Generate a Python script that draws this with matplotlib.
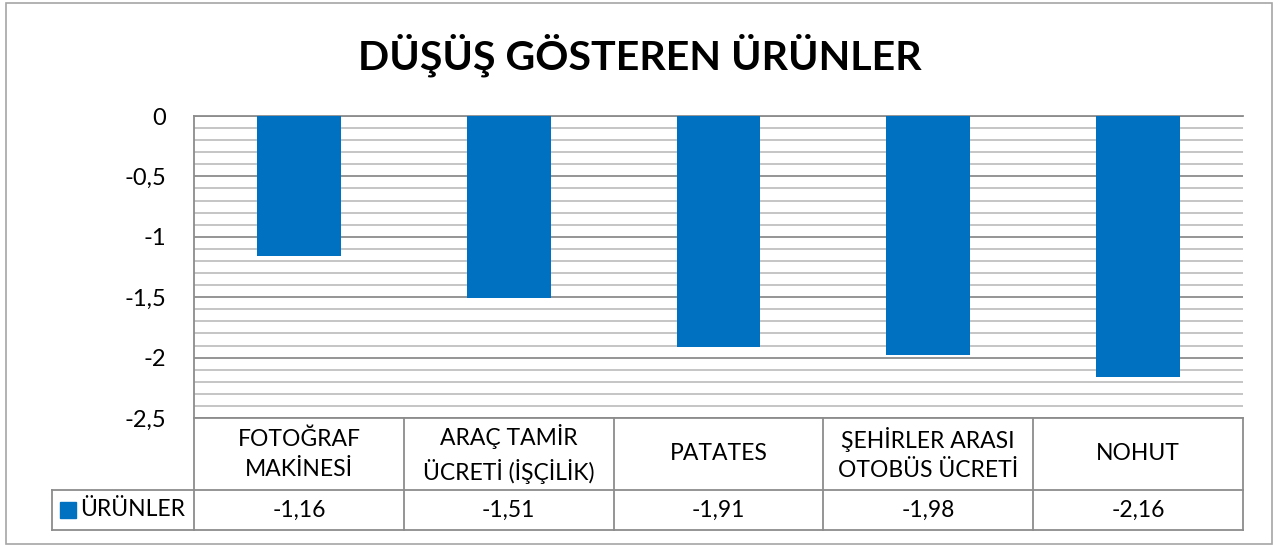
import matplotlib.pyplot as plt
import matplotlib.transforms as mtransforms
from matplotlib.patches import Rectangle
import numpy as np

categories = ['FOTOĞRAF\nMAKİNESİ', 'ARAÇ TAMİR\nÜCRETİ (İŞÇİLİK)', 'PATATES',
              'ŞEHİRLER ARASI\nOTOBÜS ÜCRETİ', 'NOHUT']
values = [-1.16, -1.51, -1.91, -1.98, -2.16]
series_name = 'ÜRÜNLER'
title = 'DÜŞÜŞ GÖSTEREN ÜRÜNLER'
yticks = [0, -0.5, -1, -1.5, -2, -2.5]

plt.rcParams['font.family'] = ['Lato', 'DejaVu Sans']
blue = '#0070C0'
grid_major = '#8c8c8c'
grid_minor = '#c0c0c0'
fs = 16.5

fig = plt.figure(figsize=(12.88, 5.47), dpi=100)
ax = fig.add_axes([194/1288, 1 - 418/547, (1243-194)/1288, (418-116)/547])

x = np.arange(len(categories))
ax.bar(x, values, width=0.4, color=blue, zorder=3)

ax.set_xlim(-0.5, len(categories) - 0.5)
ax.set_ylim(-2.5, 0)
ax.set_yticks(yticks)
ax.set_yticklabels([('%g' % t).replace('.', ',') for t in yticks], fontsize=17)
ax.set_yticks(np.arange(-2.5, 0.001, 0.1), minor=True)
ax.tick_params(axis='y', which='both', length=0, pad=20)
ax.set_xticks([])
ax.grid(axis='y', which='minor', color=grid_minor, lw=1.3, zorder=0)
ax.grid(axis='y', which='major', color=grid_major, lw=1.3, zorder=1)
for s in ['right', 'bottom']:
    ax.spines[s].set_visible(False)
ax.spines['left'].set_color(grid_major)
ax.spines['top'].set_color(grid_major)
ax.spines['left'].set_linewidth(1.3)
ax.spines['top'].set_linewidth(1.3)

# data table under the plot
tr = mtransforms.blended_transform_factory(ax.transData, ax.transAxes)
h1 = -(490 - 418) / 302
h2 = -(530 - 418) / 302
left_leg = -0.5 - 142 / 209.8
tbl = dict(color=grid_major, lw=1.3, transform=tr, clip_on=False)
ax.plot([-0.5, 4.5], [0, 0], **tbl)
ax.plot([left_leg, 4.5], [h1, h1], **tbl)
ax.plot([left_leg, 4.5], [h2, h2], **tbl)
ax.plot([left_leg, left_leg], [h1, h2], **tbl)
for b in np.arange(-0.5, 4.6, 1):
    ax.plot([b, b], [0, h2], **tbl)
for i, (c, v) in enumerate(zip(categories, values)):
    ax.text(i, h1 / 2, c, transform=tr, ha='center', va='center', fontsize=fs,
            linespacing=1.5)
    ax.text(i, (h1 + h2) / 2, ('%.2f' % v).replace('.', ','), transform=tr,
            ha='center', va='center', fontsize=fs)
ax.add_patch(Rectangle((left_leg + 0.038, (h1 + h2) / 2 - 0.026), 0.075, 0.053,
                       transform=tr, color=blue, clip_on=False))
ax.text(left_leg + 0.135, (h1 + h2) / 2, series_name, transform=tr,
        ha='left', va='center', fontsize=fs)

fig.text(0.497, 1 - 55/547, title, ha='center', va='center', fontsize=29.6,
         fontweight='bold')
fig.add_artist(Rectangle((6/1288, 3/547), (1272-6)/1288, (544-3)/547,
                         transform=fig.transFigure, fill=False,
                         edgecolor='#a6a6a6', lw=1.2))

fig.savefig('out.png', dpi=100)
